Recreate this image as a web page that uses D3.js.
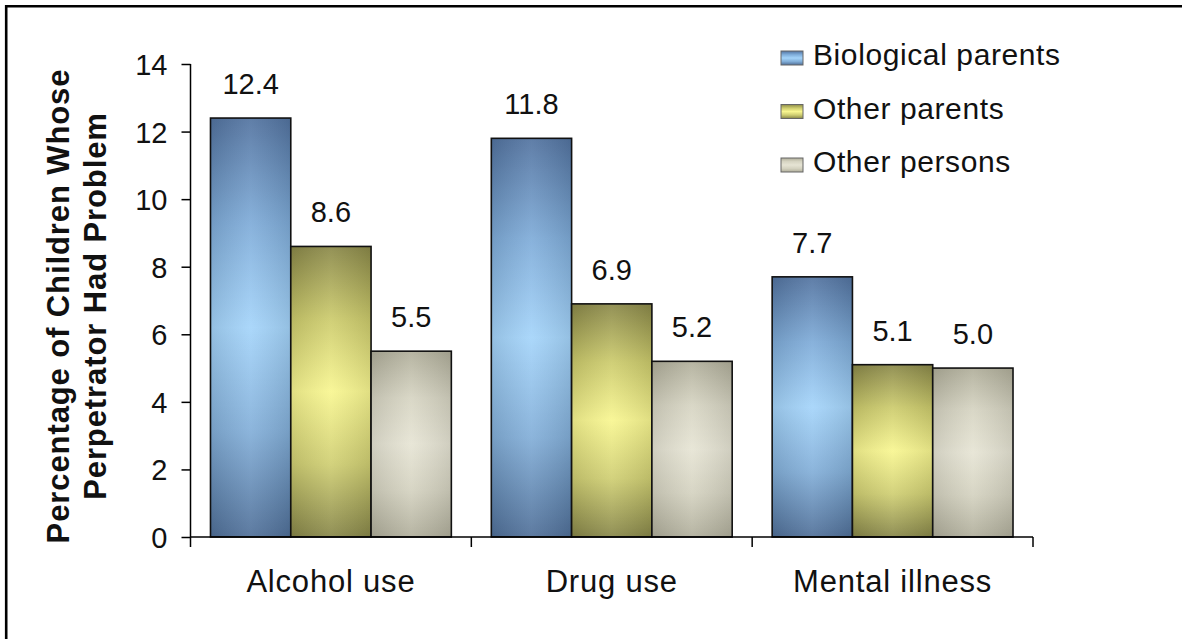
<!DOCTYPE html>
<html><head><meta charset="utf-8">
<script src="https://cdn.jsdelivr.net/npm/d3@7"></script>
<style>
html,body{margin:0;padding:0;background:#fff;overflow:hidden;}
svg{display:block;font-family:"Liberation Sans",Arial,sans-serif;}
</style></head>
<body>
<svg id="chart" width="1182" height="639"></svg>
<script>
const categories = ["Alcohol use", "Drug use", "Mental illness"];
const seriesNames = ["Biological parents", "Other parents", "Other persons"];
const biological = [12.4, 11.8, 7.7];
const otherParents = [8.6, 6.9, 5.1];
const otherPersons = [5.5, 5.2, 5.0];
const yTicks = [0, 2, 4, 6, 8, 10, 12, 14];
const yTitle = ["Percentage of Children Whose", "Perpetrator Had Problem"];

const seriesValues = [biological, otherParents, otherPersons];
const gradStops = [
  ["#5273a0", "#7eabd8", "#a4d4fa", "#82aed8", "#4f6f98"],
  ["#8a8848", "#cccb6c", "#f8f690", "#cfce72", "#878648"],
  ["#b0ae9a", "#d6d4c2", "#e6e4d4", "#d4d2c0", "#b0ae9b"]
];

const svg = d3.select("#chart");
const defs = svg.append("defs");
gradStops.forEach((stops, i) => {
  const g = defs.append("linearGradient").attr("id", "g" + i)
    .attr("x1", 0).attr("y1", 0).attr("x2", 0).attr("y2", 1);
  stops.forEach((c, j) => g.append("stop").attr("offset", j / (stops.length - 1)).attr("stop-color", c));
  const h = defs.append("linearGradient").attr("id", "h" + i)
    .attr("x1", 0).attr("y1", 0).attr("x2", 1).attr("y2", 0);
  h.append("stop").attr("offset", 0).attr("stop-color", "#000").attr("stop-opacity", 0.1);
  h.append("stop").attr("offset", 0.5).attr("stop-color", "#fff").attr("stop-opacity", 0.08);
  h.append("stop").attr("offset", 1).attr("stop-color", "#000").attr("stop-opacity", 0.1);
});

// frame (only top and left edges visible)
svg.append("path").attr("d", "M6.2,639V6.2H1182")
  .attr("fill", "none").attr("stroke", "#000").attr("stroke-width", 2.6);

const x0 = d3.scaleBand().domain(categories).range([190.5, 1033]).paddingInner(40 / 281).paddingOuter(20 / 281);
const x1 = d3.scaleBand().domain(seriesNames).range([0, x0.bandwidth()]).padding(0);
const y = d3.scaleLinear().domain([0, 14]).range([537, 64]);

// y axis
const yAxis = svg.append("g").attr("transform", "translate(190.5,0)")
  .call(d3.axisLeft(y).tickValues(yTicks).tickSize(9).tickPadding(14).tickFormat(d3.format("d")));
yAxis.select(".domain").attr("stroke", "#000").attr("stroke-width", 1.5).attr("d", "M0," + y(14) + "V" + y(0));
yAxis.selectAll(".tick line").attr("stroke", "#000").attr("stroke-width", 1.5);
yAxis.selectAll(".tick text").attr("font-size", 29).attr("fill", "#111").attr("font-family", "Liberation Sans, Arial, sans-serif").attr("dy", "0.36em");

// bars
const groups = svg.append("g").selectAll("g").data(categories).join("g")
  .attr("transform", d => `translate(${x0(d)},0)`);
seriesNames.forEach((s, si) => {
  groups.append("rect")
    .attr("x", x1(s)).attr("width", x1.bandwidth())
    .attr("y", (d, ci) => y(seriesValues[si][ci]))
    .attr("height", (d, ci) => y(0) - y(seriesValues[si][ci]))
    .attr("fill", `url(#g${si})`);
  groups.append("rect")
    .attr("x", x1(s)).attr("width", x1.bandwidth())
    .attr("y", (d, ci) => y(seriesValues[si][ci]))
    .attr("height", (d, ci) => y(0) - y(seriesValues[si][ci]))
    .attr("fill", `url(#h${si})`).attr("stroke", "#111").attr("stroke-width", 1.6);
  groups.append("text")
    .attr("x", x1(s) + x1.bandwidth() / 2)
    .attr("y", (d, ci) => y(seriesValues[si][ci]) - 24)
    .attr("text-anchor", "middle").attr("font-size", 29).attr("fill", "#111")
    .text((d, ci) => seriesValues[si][ci].toFixed(1));
});

// x axis
const xAxis = svg.append("g").attr("transform", "translate(0,537)");
xAxis.append("line").attr("x1", 190.5).attr("x2", 1033).attr("stroke", "#000").attr("stroke-width", 1.6);
const bounds = categories.map(c => x0(c) - x0.step() * x0.paddingInner() / 2).concat([1033]);
bounds[0] = 190.5;
xAxis.selectAll("line.t").data(bounds).join("line").attr("class", "t")
  .attr("x1", d => d).attr("x2", d => d).attr("y1", 0).attr("y2", 10)
  .attr("stroke", "#000").attr("stroke-width", 1.5);
xAxis.selectAll("text").data(categories).join("text")
  .attr("x", d => x0(d) + x0.bandwidth() / 2).attr("y", 55)
  .attr("text-anchor", "middle").attr("font-size", 31).attr("letter-spacing", 0.8).attr("fill", "#111")
  .text(d => d);

// y title
const yt = svg.append("text").attr("transform", "translate(69,306) rotate(-90)")
  .attr("text-anchor", "middle").attr("font-size", 31).attr("font-weight", "bold")
  .attr("letter-spacing", 0.9).attr("fill", "#111");
yt.append("tspan").attr("x", 0).attr("y", 0).text(yTitle[0]);
yt.append("tspan").attr("x", 0).attr("y", 37).text(yTitle[1]);

// legend
const leg = svg.append("g");
seriesNames.forEach((s, i) => {
  const yy = 51 + i * 53.5;
  leg.append("rect").attr("x", 781).attr("y", yy).attr("width", 22).attr("height", 14)
    .attr("fill", `url(#g${i})`).attr("stroke", "#666").attr("stroke-width", 1);
  leg.append("text").attr("x", 813).attr("y", yy + 14).attr("font-size", 30)
    .attr("letter-spacing", 0.6).attr("fill", "#111").text(s);
});
</script>
</body></html>
